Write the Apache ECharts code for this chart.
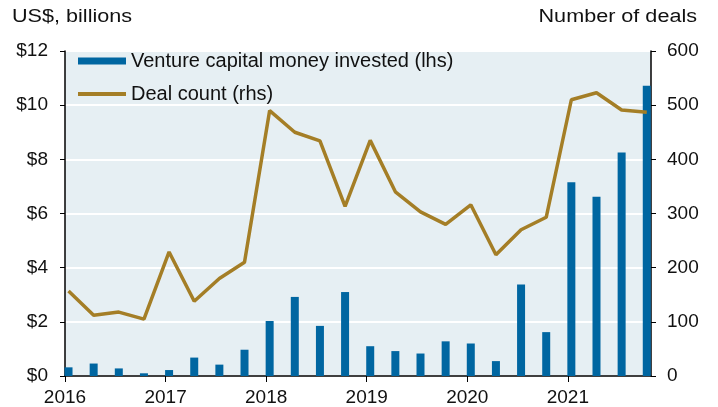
<!DOCTYPE html>
<html>
<head>
<meta charset="utf-8">
<script src="https://cdn.jsdelivr.net/npm/echarts@6/dist/echarts.min.js"></script>
<style>
    html, body { margin: 0; padding: 0; background: #fff; }
    #chart { width: 718px; height: 407px; }
</style>
</head>
<body>
<div id="chart"></div>
<script>
    // quarterly data, 2016 Q1 .. 2021 Q4
    let quarters = ['2016Q1', '2016Q2', '2016Q3', '2016Q4', '2017Q1', '2017Q2', '2017Q3', '2017Q4',
        '2018Q1', '2018Q2', '2018Q3', '2018Q4', '2019Q1', '2019Q2', '2019Q3', '2019Q4',
        '2020Q1', '2020Q2', '2020Q3', '2020Q4', '2021Q1', '2021Q2', '2021Q3', '2021Q4']
    let vcInvested = [0.32, 0.46, 0.28, 0.1, 0.22, 0.68, 0.42, 0.97, 2.03, 2.92, 1.85, 3.1,
        1.1, 0.92, 0.83, 1.28, 1.2, 0.55, 3.38, 1.62, 7.15, 6.62, 8.25, 10.72]
    let dealCount = [157, 112, 118, 105, 229, 138, 180, 210, 490, 450, 434, 313,
        435, 340, 303, 280, 316, 224, 270, 293, 510, 523, 491, 487]
    let leftTicks = [0, 2, 4, 6, 8, 10, 12]
    let rightTicks = [0, 100, 200, 300, 400, 500, 600]

    // quarter label -> position on a year scale (points sit a little after the quarter start)
    function quarterPos(q) {
        let year = parseInt(q.slice(0, 4))
        let n = parseInt(q.slice(5))
        return year + (n - 1) / 4 + 0.035
    }

    let myChart = echarts.init(document.getElementById('chart'))
    let font = 'Liberation Sans, Arial, sans-serif'
    let barColor = '#0066a1'
    let lineColor = '#a47e26'
    let legendText = { fontSize: 20, lineHeight: 20, color: '#111', fontFamily: font }

    myChart.setOption({
        animation: false,
        textStyle: { fontFamily: font },
        grid: {
            left: 65,
            right: 67,
            top: 51,
            bottom: 31,
            outerBoundsMode: 'none',
            show: true,
            backgroundColor: '#e6eff3',
            borderWidth: 0
        },
        graphic: [
            {
                type: 'text', x: 12, y: 17, scaleX: 1.2,
                style: { text: 'US$, billions', font: '18px ' + font, fill: '#111', textAlign: 'left', textVerticalAlign: 'middle' }
            },
            {
                type: 'text', x: 697, y: 17, scaleX: 1.2,
                style: { text: 'Number of deals', font: '18px ' + font, fill: '#111', textAlign: 'right', textVerticalAlign: 'middle' }
            }
        ],
        legend: [{
            data: [{ name: 'Venture capital money invested (lhs)', icon: 'rect' }],
            left: 78,
            top: 51,
            padding: 0,
            itemWidth: 48,
            itemHeight: 7,
            textStyle: legendText
        }, {
            data: [{ name: 'Deal count (rhs)', icon: 'rect' }],
            left: 78,
            top: 84,
            padding: 0,
            itemWidth: 48,
            itemHeight: 4,
            textStyle: legendText
        }],
        xAxis: {
            type: 'value',
            min: 2016,
            max: 2021.827,
            interval: 1,
            axisLine: { show: true, lineStyle: { color: '#000', width: 1.5 } },
            axisTick: { show: true, length: 6, lineStyle: { color: '#000' } },
            splitLine: { show: false },
            axisLabel: {
                color: '#111',
                fontSize: 19,
                margin: 12,
                showMaxLabel: false,
                formatter: v => String(v)
            }
        },
        yAxis: [{
            type: 'value',
            min: leftTicks[0],
            max: leftTicks[leftTicks.length - 1],
            interval: 2,
            position: 'left',
            axisLine: { show: true, lineStyle: { color: '#000', width: 1.5 } },
            axisTick: { show: true, length: 5, lineStyle: { color: '#000' } },
            splitLine: { show: true, lineStyle: { color: '#fff', width: 2 } },
            axisLabel: { color: '#111', fontSize: 19, margin: 17, formatter: v => '$' + v }
        }, {
            type: 'value',
            min: rightTicks[0],
            max: rightTicks[rightTicks.length - 1],
            interval: 100,
            position: 'right',
            axisLine: { show: true, lineStyle: { color: '#000', width: 1.5 } },
            axisTick: { show: true, length: 5, lineStyle: { color: '#000' } },
            splitLine: { show: false },
            axisLabel: { color: '#111', fontSize: 19, margin: 16 }
        }],
        series: [{
            name: 'Venture capital money invested (lhs)',
            type: 'bar',
            yAxisIndex: 0,
            barWidth: 8,
            itemStyle: { color: barColor },
            data: quarters.map((q, i) => [quarterPos(q), vcInvested[i]])
        }, {
            name: 'Deal count (rhs)',
            type: 'line',
            yAxisIndex: 1,
            showSymbol: false,
            symbol: 'none',
            lineStyle: { color: lineColor, width: 3.5 },
            itemStyle: { color: lineColor },
            data: quarters.map((q, i) => [quarterPos(q), dealCount[i]])
        }]
    })
</script>
</body>
</html>
